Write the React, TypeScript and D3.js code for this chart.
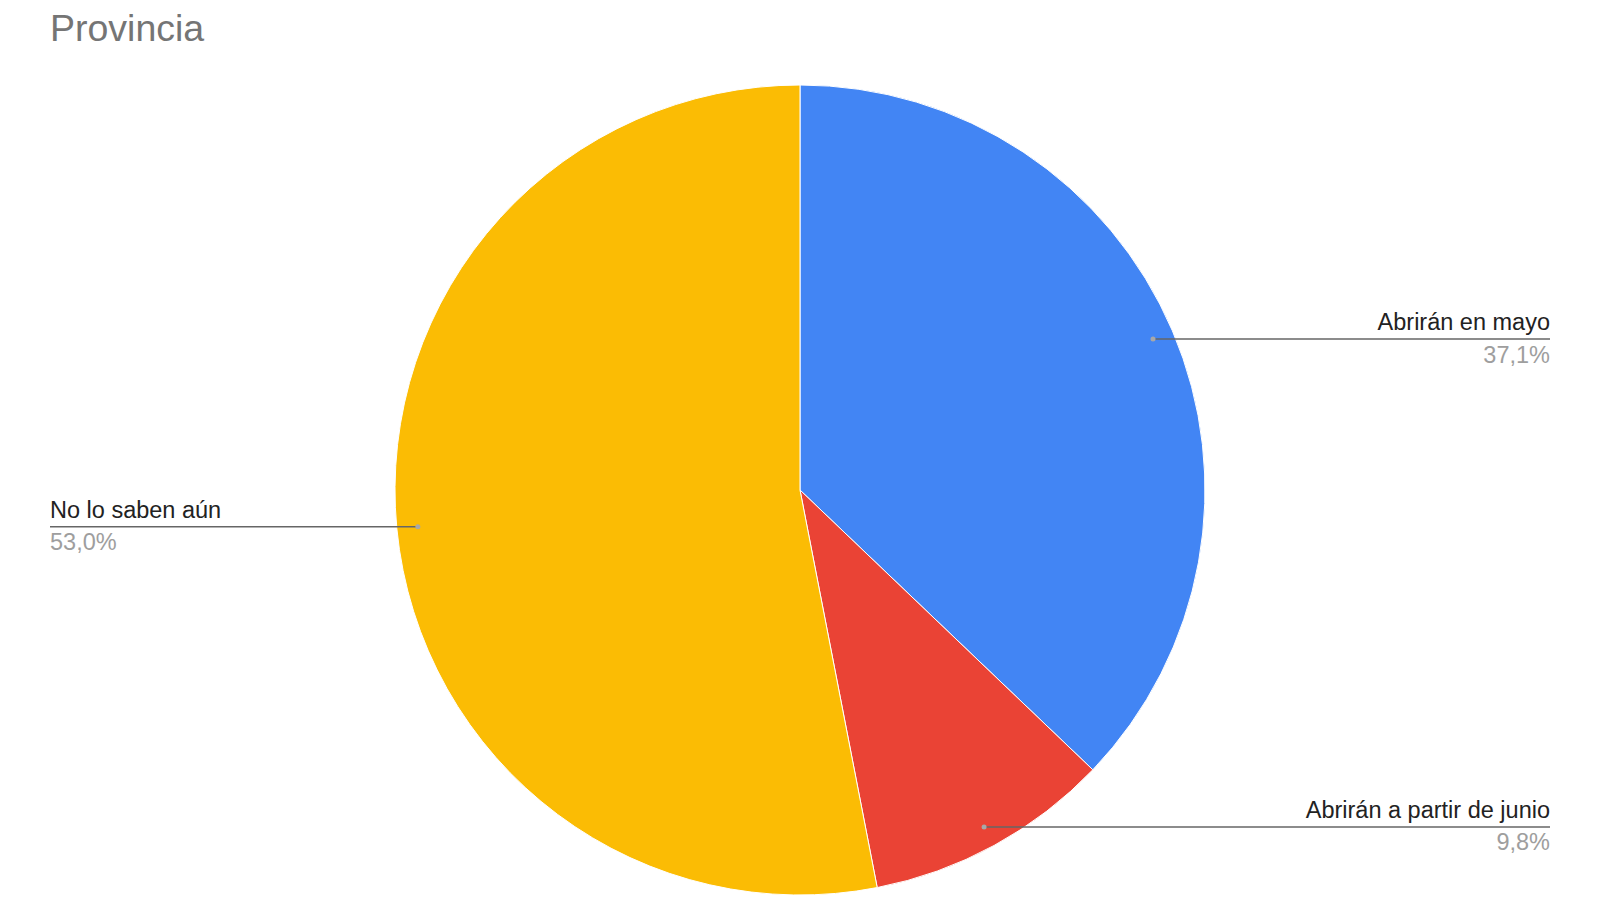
import React from 'react';
import * as d3 from 'd3';

const categories = ['Abrirán en mayo', 'Abrirán a partir de junio', 'No lo saben aún'];
const values = [37.1, 9.8, 53.0];
const percentLabels = ['37,1%', '9,8%', '53,0%'];
const colors = ['#4285f4', '#ea4335', '#fbbc04'];

const WIDTH = 1600;
const HEIGHT = 900;
const FONT = '"Liberation Sans", Arial, sans-serif';

const App: React.FC = () => {
  // Pie geometry
  const cx = 800;
  const cy = 490;
  const radius = 405;

  const pie = d3.pie<number>().sort(null).value(d => d);
  const arcs = pie(values);
  const arcGen = d3.arc<d3.PieArcDatum<number>>().innerRadius(0).outerRadius(radius);

  // label anchor radius (dot inside slice near edge)
  const dotR = radius * 0.948;
  const leftX = 50;
  const rightX = 1550;

  return (
    <svg
      width={WIDTH}
      height={HEIGHT}
      style={{ position: 'absolute', left: 0, top: 0, background: '#ffffff' }}
    >
      <text x={50} y={41} fontFamily={FONT} fontSize={37.5} fill="#757575">
        Provincia
      </text>

      <g transform={`translate(${cx},${cy})`}>
        {arcs.map((a, i) => (
          <path key={categories[i]} d={arcGen(a) || ''} fill={colors[i]} stroke="#ffffff" strokeWidth={1} />
        ))}
      </g>

      {arcs.map((a, i) => {
        const mid = (a.startAngle + a.endAngle) / 2;
        const dx = cx + dotR * Math.sin(mid);
        const dy = cy - dotR * Math.cos(mid);
        const onRight = Math.sin(mid) >= 0;
        const endX = onRight ? rightX : leftX;
        const anchor = onRight ? 'end' : 'start';
        return (
          <g key={`label-${i}`}>
            <line x1={dx} y1={dy} x2={endX} y2={dy} stroke="#666666" strokeWidth={1.5} />
            <circle cx={dx} cy={dy} r={2.5} fill="#a8a8a8" />
            <text x={endX} y={dy - 9} textAnchor={anchor} fontFamily={FONT} fontSize={23.5} fill="#222222">
              {categories[i]}
            </text>
            <text x={endX} y={dy + 23.5} textAnchor={anchor} fontFamily={FONT} fontSize={23.5} fill="#9e9e9e">
              {percentLabels[i]}
            </text>
          </g>
        );
      })}
    </svg>
  );
};

export default App;
